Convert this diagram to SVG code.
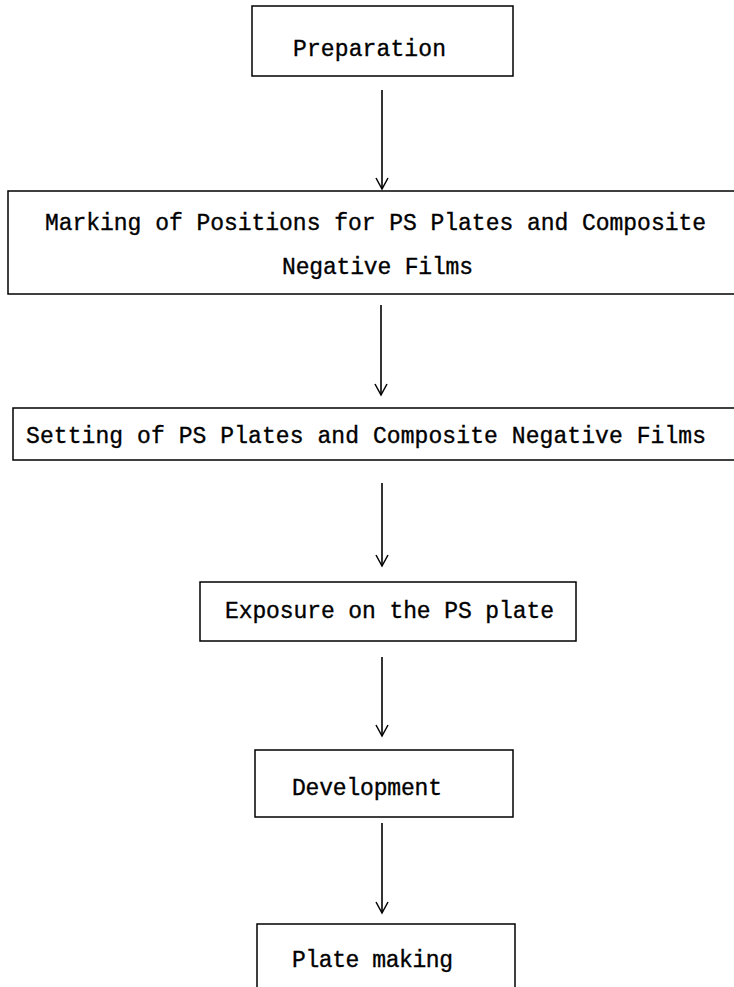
<svg xmlns="http://www.w3.org/2000/svg" width="734" height="987" viewBox="0 0 734 987">
<style>
.box{fill:none;stroke:#000;stroke-width:1.5}
.lbl{font-family:"Liberation Mono","DejaVu Sans Mono",monospace;font-size:23px;fill:#000;stroke:#000;stroke-width:0.35}
.conn{stroke:#000;stroke-width:1.6;fill:none}
</style>
<defs>
<marker id="ah" viewBox="-1 -7 14 14" refX="11" refY="0" markerWidth="14" markerHeight="14" markerUnits="userSpaceOnUse" orient="auto">
<path d="M0,-6 L11,0 L0,6" fill="none" stroke="#000" stroke-width="1.5"/>
</marker>
</defs>
<rect width="734" height="987" fill="#fff"/>
<g id="n1">
<rect class="box" x="252" y="6" width="261" height="70"/>
<text class="lbl" x="293" y="56" textLength="153" lengthAdjust="spacing">Preparation</text>
</g>
<g id="n2">
<rect class="box" x="8" y="191" width="740" height="103"/>
<text class="lbl" x="45" y="230" textLength="661" lengthAdjust="spacing">Marking of Positions for PS Plates and Composite</text>
<text class="lbl" x="282" y="274" textLength="191" lengthAdjust="spacing">Negative Films</text>
</g>
<g id="n3">
<rect class="box" x="13" y="408" width="740" height="52"/>
<text class="lbl" x="26" y="443" textLength="680" lengthAdjust="spacing">Setting of PS Plates and Composite Negative Films</text>
</g>
<g id="n4">
<rect class="box" x="200" y="582" width="376" height="59"/>
<text class="lbl" x="225" y="618" textLength="329" lengthAdjust="spacing">Exposure on the PS plate</text>
</g>
<g id="n5">
<rect class="box" x="255" y="750" width="258" height="67"/>
<text class="lbl" x="292" y="795" textLength="150" lengthAdjust="spacing">Development</text>
</g>
<g id="n6">
<rect class="box" x="257" y="924" width="258" height="80"/>
<text class="lbl" x="292" y="967" textLength="161" lengthAdjust="spacing">Plate making</text>
</g>
<g id="connectors">
<line class="conn" x1="382" y1="90" x2="382" y2="189" marker-end="url(#ah)"/>
<line class="conn" x1="381" y1="305" x2="381" y2="395" marker-end="url(#ah)"/>
<line class="conn" x1="382" y1="483" x2="382" y2="566" marker-end="url(#ah)"/>
<line class="conn" x1="382" y1="657" x2="382" y2="736" marker-end="url(#ah)"/>
<line class="conn" x1="382" y1="823" x2="382" y2="913" marker-end="url(#ah)"/>
</g>
</svg>
